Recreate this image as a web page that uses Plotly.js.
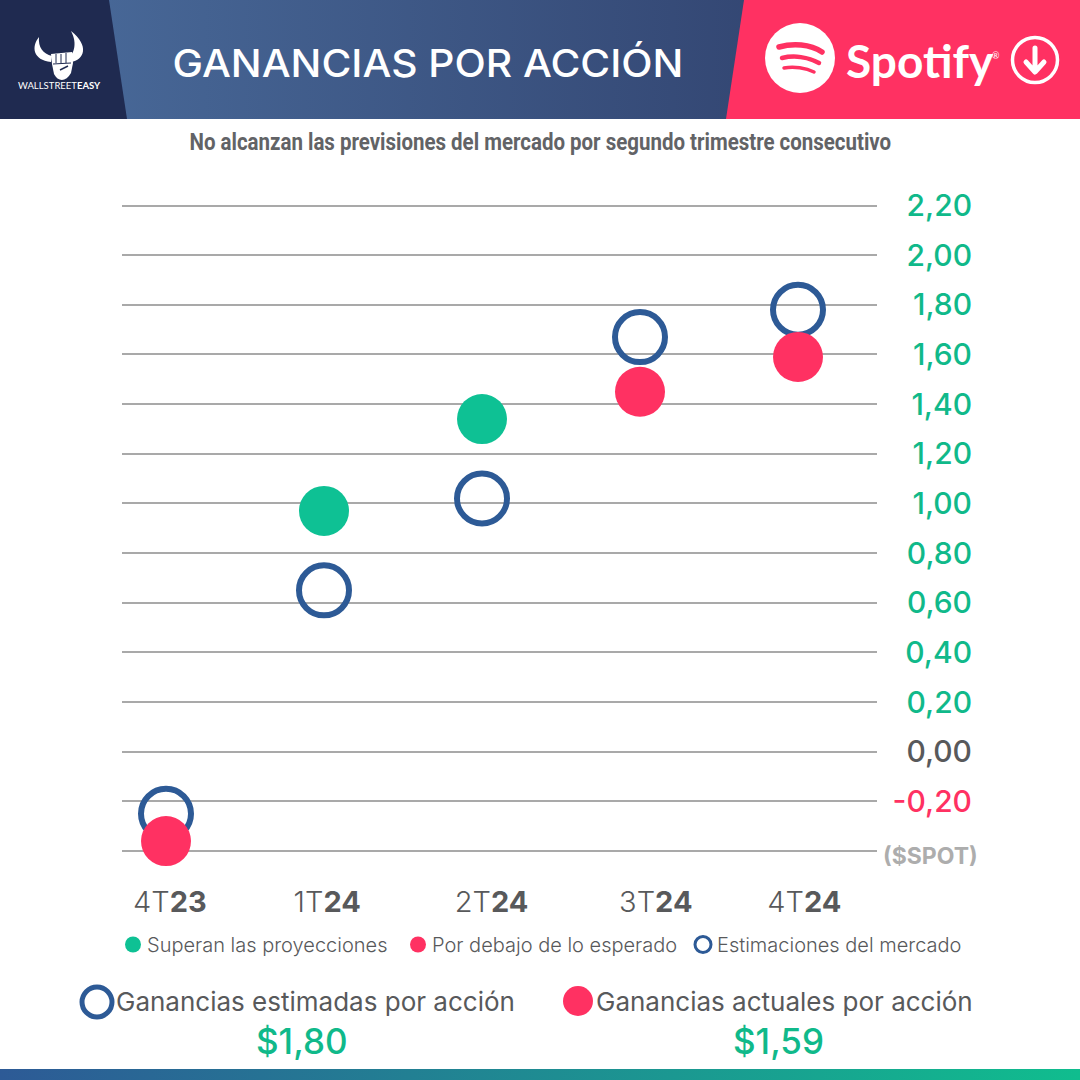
<!DOCTYPE html>
<html><head><meta charset="utf-8">
<script src="https://cdn.plot.ly/plotly-3.0.1.min.js"></script>
<style>
html,body{margin:0;padding:0;background:#fff;width:1080px;height:1080px;overflow:hidden}
#deco,#chart{position:absolute;left:0;top:0;width:1080px;height:1080px}
</style></head><body>
<svg id="deco" viewBox="0 0 1080 1080">
<defs>
<linearGradient id="hg" x1="0" x2="1" y1="0" y2="0"><stop offset="0" stop-color="#4a6c9c"/><stop offset="1" stop-color="#2a3762"/></linearGradient>
<linearGradient id="fg" x1="0" x2="1" y1="0" y2="0"><stop offset="0" stop-color="#2d5a96"/><stop offset="1" stop-color="#10bd8e"/></linearGradient>
</defs>
<rect x="0" y="0" width="1080" height="119" fill="url(#hg)"/>
<polygon points="0,0 109,0 127,119 0,119" fill="#1f2a50"/>
<polygon points="744,0 1080,0 1080,119 726,119" fill="#ff3162"/>
<rect x="0" y="1069" width="1080" height="11" fill="url(#fg)"/>
<!-- bull logo -->
<path d="M39 37 C31 47 33 60 51 62 L52 56 C43 54 38 47 39 37 Z" fill="#fff"/>
<path d="M71 31 C78 44 73 54 70 56 L71 62 C84 60 90 46 71 31 Z" fill="#fff"/>
<path d="M51 54 L72 52 L73 63 L71 73 C66 82 58 82 54 74 L52 64 Z" fill="#fff"/>
<g stroke="#1f2a50" stroke-width="1" fill="none"><path d="M56 54 V63 M61 54 V63 M66 53 V63 M53 64 L71 63"/><path d="M60 70 L68 66" stroke-width="1.5"/></g>
<!-- spotify -->
<circle cx="800" cy="58" r="35" fill="#fff"/>
<g fill="none" stroke="#ff3162" stroke-linecap="round">
<path d="M779 47 C793 43 810 44 822 52" stroke-width="5.5"/>
<path d="M782 58 C794 55 808 57 819 63" stroke-width="4.5"/>
<path d="M784 68 C794 66 806 68 814 72" stroke-width="3.5"/>
</g>
<circle cx="1035" cy="60" r="22.5" fill="none" stroke="#fff" stroke-width="3.5"/>
<path d="M1035 48 V71 M1026 62 L1035 72 L1044 62" fill="none" stroke="#fff" stroke-width="5" stroke-linecap="round" stroke-linejoin="round"/>
</svg>
<div id="chart"></div>
<script>
var quarters = [0, 1, 2, 3, 4];
var quarterLabels = ['4T<b>23</b>', '1T<b>24</b>', '2T<b>24</b>', '3T<b>24</b>', '4T<b>24</b>'];
var quarterLabelAt = [0.025, 1.02, 2.06, 3.10, 4.04];
var estimates = [-0.25, 0.65, 1.02, 1.67, 1.78];
var beatX = [1, 2];
var beatY = [0.97, 1.34];
var missX = [0, 3, 4];
var missY = [-0.36, 1.45, 1.59];
var yTicks = [2.2, 2.0, 1.8, 1.6, 1.4, 1.2, 1.0, 0.8, 0.6, 0.4, 0.2, 0, -0.2, -0.4];
var yLabels = ['2,20','2,00','1,80','1,60','1,40','1,20','1,00','0,80','0,60','0,40','0,20','0,00','-0,20',''];

var GREEN='#10b98a', PINK='#ff3162', BLUE='#2d5a96', GRAY='#58595b';
var MAIN='Inter, sans-serif';
function yc(v){ return v===0?GRAY:(v<0?PINK:GREEN); }
var yText = yLabels.map(function(t,i){ return t? '<span style="color:'+yc(yTicks[i])+'">'+t+'</span>':''; });
function P(x){return x/1080;}
function Y(y){return 1-y/1080;}
function note(text,x,y,size,color,anchor,family,weight){
  return {text:text,xref:'paper',yref:'paper',x:P(x),y:Y(y),xanchor:anchor||'left',yanchor:'middle',showarrow:false,
    font:{size:size,color:color,family:family||MAIN,weight:weight||400}};
}
var SUBTITLE='No alcanzan las previsiones del mercado por segundo trimestre consecutivo';
var data = [
 {type:'scatter',mode:'markers',x:quarters,y:estimates,name:'Estimaciones',showlegend:false,cliponaxis:false,
  marker:{symbol:'circle-open',size:50,color:BLUE,line:{width:6,color:BLUE}}},
 {type:'scatter',mode:'markers',x:beatX,y:beatY,name:'Superan las proyecciones',legendrank:1,cliponaxis:false,
  marker:{size:50,color:'#0ec194'}},
 {type:'scatter',mode:'markers',x:missX,y:missY,name:'Por debajo de lo esperado',legendrank:2,cliponaxis:false,
  marker:{size:50,color:PINK}},
 {type:'scatter',mode:'markers',x:[null],y:[null],name:'Estimaciones del mercado',legendrank:3,
  marker:{symbol:'circle-open',size:16,color:BLUE,line:{width:3,color:BLUE}}}
];
var layout = {
 width:1080,height:1080,margin:{l:0,r:0,t:0,b:0,pad:0},
 paper_bgcolor:'rgba(0,0,0,0)',plot_bgcolor:'rgba(0,0,0,0)',
 title:{text:'GANANCIAS POR ACCIÓN',x:P(428),xref:'paper',xanchor:'center',y:Y(64),yref:'paper',yanchor:'middle',
   font:{size:38,color:'#fff',family:MAIN,weight:500}},
 xaxis:{domain:[P(122),P(877)],range:[-44/158,711/158],type:'linear',tickmode:'array',tickvals:quarterLabelAt,ticktext:quarterLabels,
   showgrid:false,zeroline:false,showline:false,ticks:'',ticklabelstandoff:28,
   tickfont:{size:29,color:GRAY,family:MAIN,weight:300}},
 yaxis:{domain:[Y(853.5),Y(180.7)],range:[-0.41,2.3],anchor:'free',position:P(975),side:'right',ticklabelposition:'inside',
   tickmode:'array',tickvals:yTicks,ticktext:yText,showgrid:true,gridcolor:'#a9a9a9',gridwidth:2,zeroline:false,showline:false,ticks:'',
   tickfont:{size:30,family:MAIN,weight:500}},
 showlegend:true,
 legend:{orientation:'h',x:P(113),y:Y(925),xanchor:'left',yanchor:'top',traceorder:'normal',itemsizing:'trace',
   entrywidth:240,entrywidthmode:'pixels',font:{size:20,color:GRAY,family:MAIN,weight:300},bgcolor:'rgba(0,0,0,0)'},
 shapes:[
  {type:'circle',xref:'paper',yref:'paper',x0:P(82),x1:P(112),y0:Y(1017),y1:Y(987),line:{color:BLUE,width:5},fillcolor:'rgba(0,0,0,0)'},
  {type:'circle',xref:'paper',yref:'paper',x0:P(563),x1:P(593),y0:Y(1016),y1:Y(986),line:{width:0},fillcolor:PINK}
 ],
 annotations:[
  note('WALLSTREET<b>EASY</b>',59,85,9.5,'#fff','center','Lato, sans-serif'),
  note('<b>Spotify</b>',844,60,46,'#fff','left','Lato, sans-serif',700),
  note('®',990,55,9,'#fff','left','Lato, sans-serif'),
  note(SUBTITLE,540,142,24,'#626366','center','Roboto, sans-serif',700),
  note('($SPOT)',930,856,23,'#adadad','center',MAIN,700),
  note('Ganancias estimadas por acción',114,1001,26,GRAY,'left',MAIN,400),
  note('Ganancias actuales por acción',594,1001,26,GRAY,'left',MAIN,400),
  note('$1,80',302,1041,35,GREEN,'center',MAIN,500),
  note('$1,59',778,1041,35,GREEN,'center',MAIN,500)
 ]
};
function fitWidth(el,target){
  var w=el.getBBox().width;
  el.style.transformBox='fill-box';
  el.style.transformOrigin='center';
  el.style.transform='scaleX('+(target/w)+')';
}
Plotly.newPlot('chart',data,layout,{displayModeBar:false,staticPlot:true}).then(function(){
  document.querySelectorAll('.annotation-text').forEach(function(t){
    if(t.textContent===SUBTITLE){ fitWidth(t,702); }
  });
  var title=document.querySelector('.gtitle');
  if(title){ fitWidth(title,511); }
  // legend labels sit closer to their keys in the reference
  document.querySelectorAll('.legendtext').forEach(function(t){ t.style.transform='translateX(-6px)'; });
});
</script>
</body></html>
